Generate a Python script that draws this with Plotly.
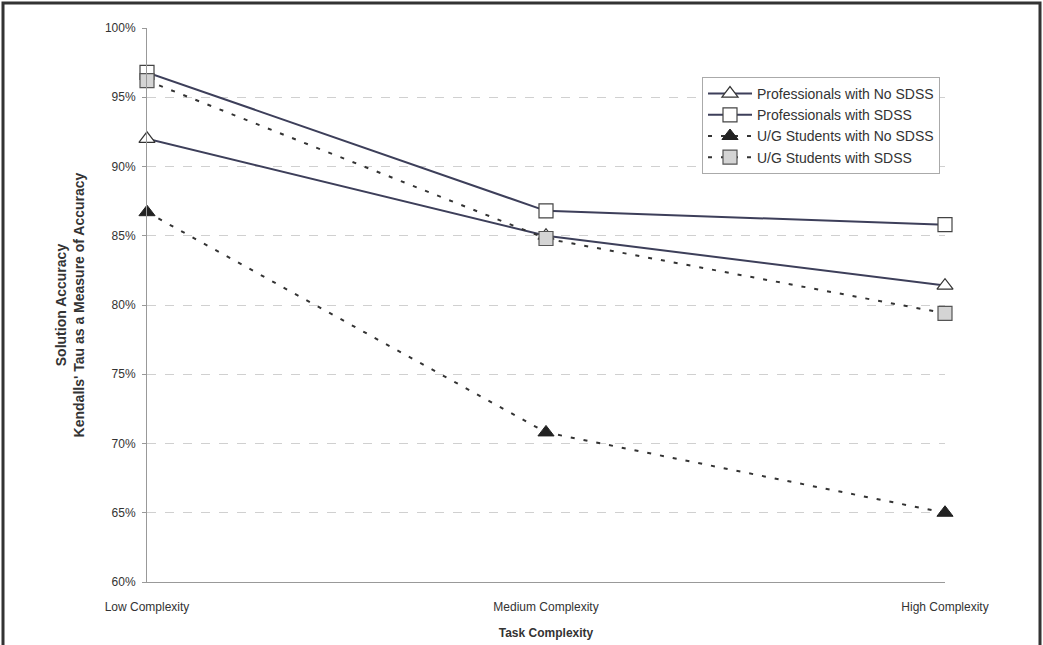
import plotly.graph_objects as go

categories = ["Low Complexity", "Medium Complexity", "High Complexity"]
prof_no_sdss = [92.0, 85.0, 81.4]
prof_sdss = [96.8, 86.8, 85.8]
ug_no_sdss = [86.7, 70.8, 65.0]
ug_sdss = [96.2, 84.8, 79.4]
y_ticks = [60, 65, 70, 75, 80, 85, 90, 95, 100]
y_tick_labels = [f"{v}%" for v in y_ticks]

LINE = "#3d3f5a"
FONT = "Liberation Sans, Arial, sans-serif"

fig = go.Figure()
fig.add_trace(go.Scatter(
    x=categories, y=prof_no_sdss, name="Professionals with No SDSS",
    mode="lines+markers", cliponaxis=False,
    line=dict(color=LINE, width=2),
    marker=dict(symbol="triangle-up", size=14, color="white", line=dict(color="#333", width=1.2)),
))
fig.add_trace(go.Scatter(
    x=categories, y=prof_sdss, name="Professionals with SDSS",
    mode="lines+markers", cliponaxis=False,
    line=dict(color=LINE, width=2),
    marker=dict(symbol="square", size=14, color="white", line=dict(color="#444", width=1.2)),
))
fig.add_trace(go.Scatter(
    x=categories, y=ug_no_sdss, name="U/G Students with No SDSS",
    mode="lines+markers", cliponaxis=False,
    line=dict(color="#333", width=2, dash="4px,9px"),
    marker=dict(symbol="triangle-up", size=14, color="#222", line=dict(color="#222", width=1)),
))
fig.add_trace(go.Scatter(
    x=categories, y=ug_sdss, name="U/G Students with SDSS",
    mode="lines+markers", cliponaxis=False,
    line=dict(color="#333", width=2, dash="4px,9px"),
    marker=dict(symbol="square", size=14, color="#d4d4d4", line=dict(color="#555", width=1.2)),
))

fig.update_layout(
    width=1043, height=645,
    margin=dict(l=147, r=98, t=28, b=63),
    paper_bgcolor="white", plot_bgcolor="white",
    font=dict(family=FONT, size=12, color="#333"),
    showlegend=True,
    legend=dict(
        x=(702 - 147) / 798, y=(582 - 77) / 554, xanchor="left", yanchor="top",
        bgcolor="white", bordercolor="#aaa", borderwidth=1,
        font=dict(size=14, color="#333"), tracegroupgap=0, itemwidth=44,
    ),
    xaxis=dict(
        type="category", range=[0, 2], showgrid=False, automargin=False,
        showline=True, linecolor="#999", linewidth=1,
        ticks="", tickfont=dict(size=12, color="#333"), ticklabelstandoff=14,
        title=dict(text="<b>Task Complexity</b>", font=dict(size=12, color="#333"), standoff=15),
    ),
    yaxis=dict(
        range=[60, 100], tickvals=y_ticks, ticktext=y_tick_labels, automargin=False,
        showgrid=True, gridcolor="#d0d0d0", griddash="dash", gridwidth=1,
        showline=True, linecolor="#999", linewidth=1,
        ticks="outside", ticklen=4, tickcolor="#999", ticklabelstandoff=4,
        tickfont=dict(size=12, color="#333"), zeroline=False,
        title=dict(text="<b>Solution Accuracy<br>Kendalls' Tau as a Measure of Accuracy</b>",
                   font=dict(size=14, color="#333"), standoff=16),
    ),
    shapes=[dict(
        type="rect", xref="paper", yref="paper",
        x0=(3 - 147) / 798, x1=(1040 - 147) / 798,
        y0=(582 - 660) / 554, y1=(582 - 3) / 554,
        line=dict(color="#333", width=3), fillcolor="rgba(0,0,0,0)", layer="below",
    )],
)

fig.write_html("out.html", config={"displayModeBar": False},
               post_script="document.body.style.margin='0';")
